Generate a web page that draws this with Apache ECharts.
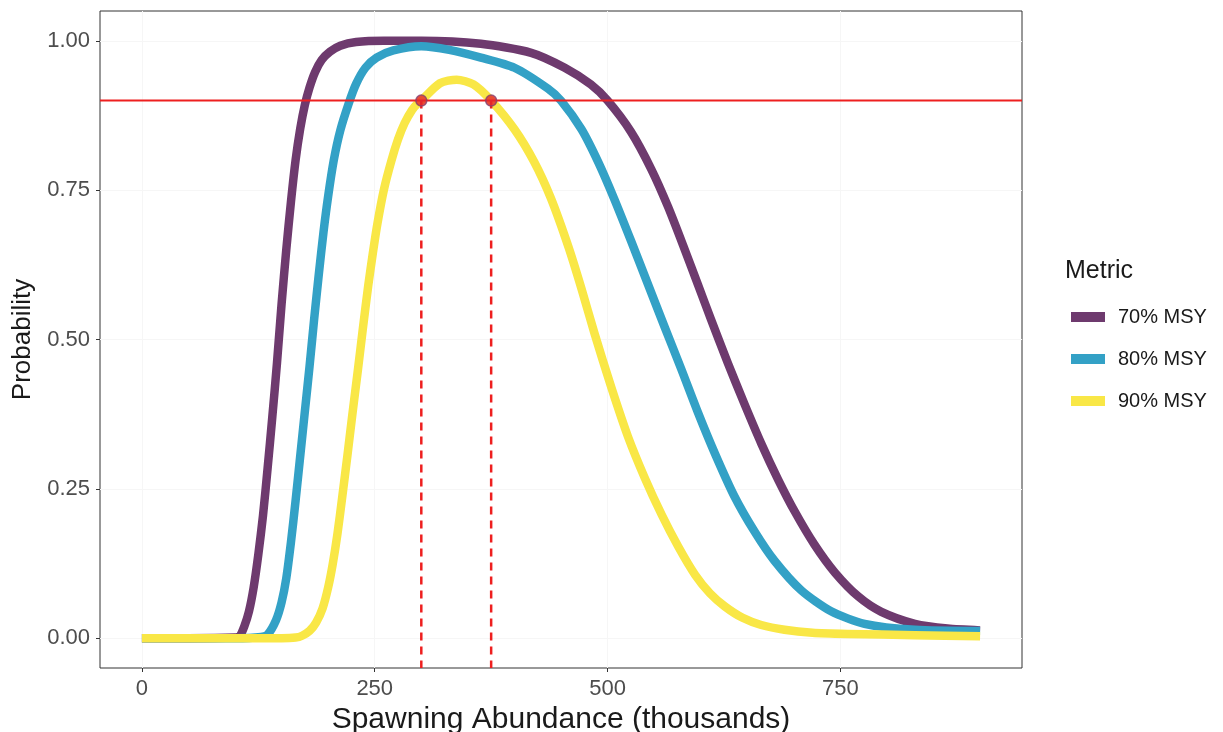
<!DOCTYPE html>
<html>
<head>
<meta charset="utf-8">
<script src="https://cdn.jsdelivr.net/npm/echarts@6/dist/echarts.min.js"></script>
<style>
  html, body { margin: 0; padding: 0; background: #fff; }
  #chart { width: 1223px; height: 732px; }
</style>
</head>
<body>
<div id="chart"></div>
<script>
// values
var metrics = ['70% MSY', '80% MSY', '90% MSY'];
var colors = ['#6e3a6e', '#33a1c6', '#f9e746'];

var x70 = [0, 50, 100, 105, 110, 115, 120, 125, 130, 135, 140, 145, 150, 155, 160, 165, 170, 175, 180, 186, 193, 202, 213, 230, 260, 300, 364, 418, 454, 482, 500, 525, 547, 565, 583, 597, 611, 629, 647, 665, 683, 701, 722, 744, 769, 794, 830, 865, 900];
var y70 = [0, 0, 0.001, 0.003, 0.02, 0.045, 0.085, 0.14, 0.205, 0.285, 0.37, 0.46, 0.56, 0.65, 0.73, 0.80, 0.853, 0.893, 0.922, 0.948, 0.968, 0.982, 0.992, 0.998, 1.0, 1.0, 0.995, 0.98, 0.955, 0.927, 0.90, 0.848, 0.785, 0.722, 0.650, 0.592, 0.534, 0.461, 0.392, 0.326, 0.266, 0.212, 0.157, 0.110, 0.070, 0.044, 0.024, 0.016, 0.013];

var x80 = [0, 50, 100, 128, 135, 144, 150, 155, 160, 165, 170, 175, 180, 185, 190, 195, 200, 206, 213, 222, 230, 240, 252, 270, 300, 330, 364, 400, 436, 450, 472, 490, 507, 525, 543, 561, 579, 597, 615, 636, 658, 679, 708, 740, 776, 830, 900];
var y80 = [0, 0, 0, 0.002, 0.006, 0.03, 0.06, 0.10, 0.16, 0.23, 0.305, 0.38, 0.455, 0.535, 0.61, 0.68, 0.74, 0.80, 0.85, 0.895, 0.928, 0.955, 0.972, 0.984, 0.991, 0.985, 0.972, 0.955, 0.92, 0.90, 0.852, 0.797, 0.736, 0.666, 0.594, 0.522, 0.451, 0.378, 0.31, 0.238, 0.178, 0.130, 0.080, 0.045, 0.024, 0.014, 0.012];

var x90 = [0, 50, 100, 150, 165, 172, 180, 187, 194, 200, 205, 210, 215, 221, 226, 232, 237, 243, 248, 253, 260, 268, 275, 282, 290, 296, 300, 320, 338, 356, 375, 400, 421, 439, 458, 472, 486, 504, 522, 540, 558, 576, 594, 610, 626, 645, 665, 690, 720, 758, 830, 900];
var y90 = [0, 0, 0, 0, 0.001, 0.004, 0.012, 0.026, 0.05, 0.085, 0.125, 0.175, 0.235, 0.31, 0.375, 0.45, 0.515, 0.59, 0.645, 0.695, 0.752, 0.80, 0.835, 0.862, 0.884, 0.895, 0.90, 0.929, 0.935, 0.927, 0.90, 0.852, 0.798, 0.737, 0.655, 0.585, 0.51, 0.42, 0.337, 0.268, 0.207, 0.153, 0.106, 0.075, 0.053, 0.034, 0.022, 0.014, 0.009, 0.007, 0.005, 0.003];

var threshold = 0.9;
var crossings = [300, 375];
var xTicks = [0, 250, 500, 750];
var yTicks = [0, 0.25, 0.5, 0.75, 1.0];

function pairs(xs, ys) {
  var out = [];
  for (var i = 0; i < xs.length; i++) out.push([xs[i], ys[i]]);
  return out;
}

var curves = [pairs(x70, y70), pairs(x80, y80), pairs(x90, y90)];

var series = [];
curves.forEach(function (d, i) {
  series.push({
    name: metrics[i],
    type: 'line',
    data: d,
    smooth: 0.25,
    showSymbol: false,
    z: 2 + i,
    lineStyle: { color: colors[i], width: 8.5, cap: 'butt', join: 'round' },
    itemStyle: { color: colors[i] }
  });
});

// horizontal threshold line across the panel
series.push({
  type: 'line',
  data: [[-45, threshold], [945, threshold]],
  showSymbol: false,
  silent: true,
  z: 6,
  lineStyle: { color: '#ee1f1f', width: 2 }
});

// dashed drop lines
crossings.forEach(function (c) {
  series.push({
    type: 'line',
    data: [[c, threshold], [c, -0.05]],
    showSymbol: false,
    silent: true,
    z: 6,
    lineStyle: { color: '#ee1f1f', width: 2.5, type: [8, 6] }
  });
});

series.push({
  type: 'scatter',
  data: crossings.map(function (c) { return [c, threshold]; }),
  symbolSize: 11,
  z: 7,
  itemStyle: { color: '#e3262d', borderColor: '#84406c', borderWidth: 1.5 }
});

var myChart = echarts.init(document.getElementById('chart'));

var option = {
  backgroundColor: '#fff',
  animation: false,
  title: {
    text: 'Metric',
    left: 1060,
    top: 254,
    textStyle: { fontFamily: 'Liberation Sans', fontSize: 25, fontWeight: 'normal', color: '#1a1a1a' }
  },
  legend: {
    data: metrics,
    orient: 'vertical',
    left: 1066,
    top: 302,
    icon: 'rect',
    itemWidth: 34,
    itemHeight: 10,
    itemGap: 22,
    textStyle: { fontFamily: 'Liberation Sans', fontSize: 20, lineHeight: 20, color: '#1a1a1a', padding: [0, 0, 0, 8] }
  },
  grid: {
    left: 100, top: 11, right: 201, bottom: 64,
    outerBoundsMode: 'none',
    containLabel: false,
    show: true, borderColor: '#333', borderWidth: 1, backgroundColor: 'transparent'
  },
  xAxis: {
    type: 'value',
    min: -45, max: 945,
    name: 'Spawning Abundance (thousands)',
    nameLocation: 'middle',
    nameGap: 35,
    nameTextStyle: { fontFamily: 'Liberation Sans', fontSize: 30, color: '#1a1a1a' },
    axisLine: { show: false, onZero: false },
    axisTick: { show: true, length: 4, customValues: xTicks, lineStyle: { color: '#333' } },
    axisLabel: { customValues: xTicks, margin: 10, fontFamily: 'Liberation Sans', fontSize: 22, color: '#4d4d4d' },
    splitLine: { show: true, lineStyle: { color: '#f6f6f6', width: 1 } }
  },
  yAxis: {
    type: 'value',
    min: -0.05, max: 1.05,
    name: 'Probability',
    nameLocation: 'middle',
    nameGap: 62,
    nameRotate: 90,
    nameTextStyle: { fontFamily: 'Liberation Sans', fontSize: 26, color: '#1a1a1a' },
    axisLine: { show: false, onZero: false },
    axisTick: { show: true, length: 4, customValues: yTicks, lineStyle: { color: '#333' } },
    axisLabel: {
      customValues: yTicks, margin: 10, fontFamily: 'Liberation Sans', fontSize: 22, color: '#4d4d4d',
      formatter: function (v) { return v.toFixed(2); }
    },
    splitLine: { show: true, lineStyle: { color: '#f6f6f6', width: 1 } }
  },
  series: series
};

myChart.setOption(option);
</script>
</body>
</html>
